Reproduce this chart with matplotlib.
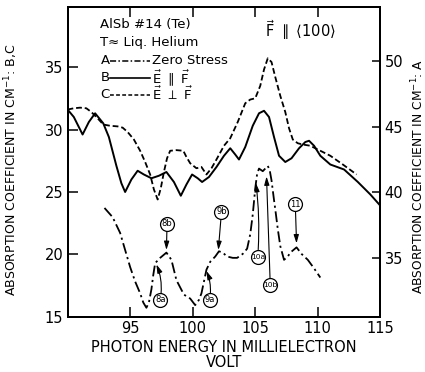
import matplotlib
matplotlib.use("Agg")
import matplotlib.pyplot as plt

# Photon energy (meV) and absorption coefficients (cm^-1)
energy_B = [90.0, 90.5, 91.2, 91.7, 92.2, 92.85, 93.3, 93.9, 94.3, 94.6, 95.1, 95.6,
            96.1, 96.7, 97.3, 97.9, 98.5, 99.05, 99.5, 99.95, 100.4, 100.75, 101.3,
            101.9, 102.5, 103.0, 103.4, 103.7, 104.2, 104.8, 105.3, 105.7, 106.1,
            106.5, 106.9, 107.4, 107.9, 108.5, 109.0, 109.3, 109.7, 110.2, 111.0,
            112.1, 113.2, 114.2, 115.0]
alpha_B = [31.6, 31.0, 29.6, 30.6, 31.3, 30.5, 29.4, 27.1, 25.7, 25.0, 26.0, 26.7,
           26.4, 26.1, 26.3, 26.6, 25.8, 24.7, 25.6, 26.4, 26.1, 25.8, 26.2,
           27.0, 27.9, 28.5, 28.0, 27.6, 28.6, 30.3, 31.3, 31.5, 31.0,
           29.4, 27.9, 27.4, 27.7, 28.5, 29.0, 29.1, 28.7, 27.9, 27.2,
           26.8, 25.8, 24.8, 23.9]

energy_C = [90.0, 90.5, 91.0, 91.5, 91.9, 92.4, 92.85, 93.4, 94.0, 94.4, 94.8, 95.3,
            95.8, 96.2, 96.6, 96.9, 97.2, 97.45, 97.7, 97.95, 98.2, 98.7, 99.25,
            99.5, 99.8, 100.3, 100.7, 101.1, 101.5, 101.9, 102.5, 103.0, 103.6,
            104.2, 104.6, 105.0, 105.4, 105.7, 106.0, 106.3, 106.6, 107.0, 107.4,
            107.7, 108.0, 108.4, 108.8, 109.4, 110.2, 111.0, 112.0, 113.1]
alpha_C = [31.6, 31.7, 31.75, 31.7, 31.4, 30.9, 30.4, 30.3, 30.25, 30.15, 29.8, 29.2,
           28.3, 27.4, 26.4, 25.2, 24.4, 25.3, 26.6, 27.7, 28.3, 28.35, 28.3,
           27.8, 27.3, 26.9, 27.0, 26.4, 26.9, 27.6, 28.7, 29.3, 30.6,
           32.1, 32.4, 32.5, 33.5, 34.8, 35.7, 35.4, 34.2, 32.7, 31.4,
           30.1, 29.2, 28.9, 28.8, 28.7, 28.3, 27.9, 27.2, 26.4]

energy_A = [92.95, 93.6, 94.2, 94.6, 95.0, 95.4, 95.8, 96.05, 96.3, 96.5, 96.7, 96.85,
            97.0, 97.4, 97.9, 98.3, 98.7, 99.3, 99.8, 100.2, 100.5, 100.7, 100.9,
            101.1, 101.4, 101.8, 102.1, 102.4, 102.75, 103.2, 103.55, 104.0, 104.35,
            104.6, 104.8, 105.0, 105.15, 105.3, 105.6, 105.8, 106.0, 106.15, 106.3,
            106.5, 106.6, 106.8, 107.0, 107.3, 107.6, 107.8, 108.05, 108.3, 108.7,
            109.2, 109.7, 110.2]
alpha_A = [38.8, 38.1, 36.9, 35.6, 34.3, 33.2, 32.3, 31.6, 31.2, 31.6, 32.6, 33.7,
           34.6, 35.0, 35.4, 34.85, 33.3, 32.2, 31.9, 31.4, 31.8, 32.3, 33.2,
           34.1, 34.7, 35.1, 35.5, 35.4, 35.1, 35.0, 35.0, 35.3, 35.7,
           36.8, 38.3, 40.3, 41.4, 41.8, 41.6, 41.8, 42.0, 41.7, 40.9,
           39.4, 38.7, 37.2, 35.9, 34.85, 35.1, 35.4, 35.6, 35.8, 35.3,
           34.85, 34.2, 33.5]

x_ticks = [95, 100, 105, 110, 115]
left_ticks = [15, 20, 25, 30, 35]
right_ticks = [35, 40, 45, 50]

# Transition labels on curve A: (label, energy, absorption)
peak_labels = ["8a", "8b", "9a", "9b", "10a", "10b", "11"]
peak_energy = [97.1, 97.9, 101.1, 102.05, 105.05, 105.9, 108.3]
peak_alpha = [34.5, 35.6, 34.0, 35.6, 40.7, 41.2, 36.1]

plt.rcParams["font.family"] = ["DejaVu Sans"]
plt.rcParams["mathtext.fontset"] = "dejavusans"

fig = plt.figure(figsize=(4.25, 3.72), dpi=100)
ax = fig.add_axes([0.159, 0.148, 0.736, 0.833])
ax2 = ax.twinx()

ax.plot(energy_B, alpha_B, color="black", lw=1.4, ls="-")
ax.plot(energy_C, alpha_C, color="black", lw=1.3, ls=(0, (3.2, 1.6)))
ax2.plot(energy_A, alpha_A, color="black", lw=1.3, ls=(0, (6, 2, 1.2, 2)))

ax.set_xlim(90, 115)
ax.set_ylim(15, 39.8)
ax2.set_ylim(30.5, 54.1)

ax.set_xticks(x_ticks)
ax.set_yticks(left_ticks)
ax2.set_yticks(right_ticks)
ax.tick_params(axis="x", direction="in", length=7, width=1.1, top=True,
               labelsize=10.5, pad=3)
ax.tick_params(axis="y", direction="in", length=7, width=1.1, labelsize=10.5, pad=3)
ax2.tick_params(axis="y", direction="in", length=6, width=1.1, labelsize=10.5, pad=3)
ax.xaxis.set_ticks_position("both")

for a in (ax, ax2):
    for s in a.spines.values():
        s.set_linewidth(1.4)

ax.set_ylabel(r"ABSORPTION COEFFICIENT IN CM$^{-1}$: B,C", fontsize=9)
ax.yaxis.set_label_coords(-0.153, 0.474)
ax2.set_ylabel(r"ABSORPTION COEFFICIENT IN CM$^{-1}$: A", fontsize=8.8, rotation=90)
ax2.yaxis.set_label_coords(1.093, 0.455)
ax.set_xlabel("PHOTON ENERGY IN MILLIELECTRON\nVOLT", fontsize=10.5,
              linespacing=1.0, labelpad=3)

# Key block
tkw = dict(transform=ax.transAxes, fontsize=9.5, va="center", ha="left")
ax.text(0.105, 0.943, "AlSb #14 (Te)", **tkw)
ax.text(0.105, 0.885, "T\u2248 Liq. Helium", **tkw)
ax.text(0.105, 0.827, "A", **tkw)
ax.text(0.105, 0.772, "B", **tkw)
ax.text(0.105, 0.717, "C", **tkw)
ax.plot([0.135, 0.265], [0.827, 0.827], transform=ax.transAxes, color="black",
        lw=1.1, ls=(0, (4, 1.5, 1, 1.5)))
ax.plot([0.135, 0.265], [0.772, 0.772], transform=ax.transAxes, color="black", lw=1.2)
ax.plot([0.135, 0.265], [0.717, 0.717], transform=ax.transAxes, color="black",
        lw=1.1, ls=(0, (2.5, 1.5)))
ax.text(0.27, 0.827, "Zero Stress", **tkw)
ax.text(0.27, 0.772, r"$\vec{\mathrm{E}}\ \parallel\ \vec{\mathrm{F}}$", **tkw)
ax.text(0.27, 0.717, r"$\vec{\mathrm{E}}\ \perp\ \vec{\mathrm{F}}$", **tkw)
ax.text(0.63, 0.925, r"$\vec{\mathrm{F}}\ \parallel\ \langle 100\rangle$",
        transform=ax.transAxes, fontsize=10.5, va="center", ha="left")

# Circled transition labels with arrows
label_pos = {"8a": (97.4, 31.8, 0.15), "8b": (97.95, 37.6, 0.0),
             "9a": (101.35, 31.8, 0.15), "9b": (102.3, 38.5, 0.0),
             "10a": (105.2, 35.1, 0.05), "10b": (106.2, 32.9, 0.0),
             "11": (108.2, 39.1, 0.0)}
circle_pt = 10.0
for lab, ex, ay in zip(peak_labels, peak_energy, peak_alpha):
    tx, ty, rad = label_pos[lab]
    ax2.annotate("", xy=(ex, ay), xytext=(tx, ty), textcoords="data",
                 arrowprops=dict(arrowstyle="-|>,head_length=0.5,head_width=0.15",
                                 color="black", lw=0.8, shrinkA=circle_pt / 2,
                                 shrinkB=0, connectionstyle=f"arc3,rad={rad}"))
    ax2.plot([tx], [ty], marker="o", ms=circle_pt, mfc="white", mec="black",
             mew=0.9, zorder=5)
    ax2.text(tx, ty, lab, fontsize=5.4 if len(lab) > 2 else 6.0, ha="center",
             va="center", zorder=6)

fig.savefig("out.png", dpi=100)
